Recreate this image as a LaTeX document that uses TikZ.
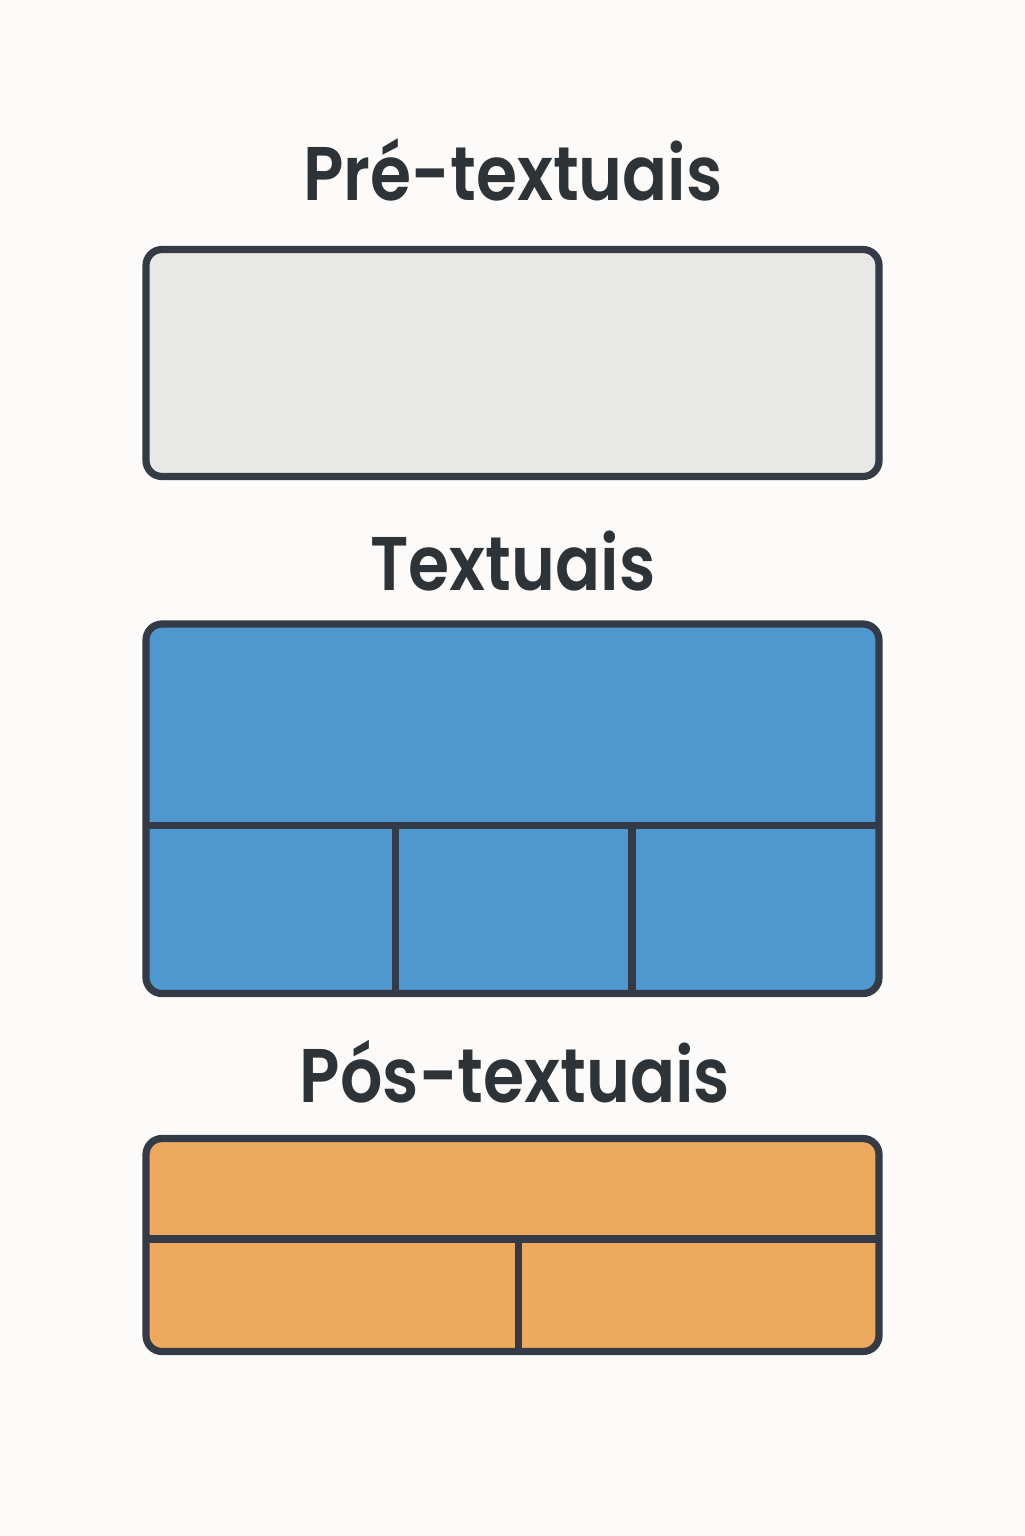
\documentclass[tikz,border=0pt]{standalone}
\usepackage{fontspec}
\usepackage{graphicx}
\setmainfont{Poppins}
\newfontfamily\titlefont{Poppins SemiBold}
\definecolor{bg}{HTML}{FCFBF9}
\definecolor{ink}{HTML}{343B46}
\definecolor{txt}{HTML}{2E3338}
\definecolor{grayfill}{HTML}{E8E8E6}
\definecolor{bluefill}{HTML}{4F97CF}
\definecolor{orangefill}{HTML}{EDAA5E}
\newcommand{\narrowtitle}[1]{\scalebox{0.875}[1]{#1}}
\begin{document}
\begin{tikzpicture}[x=0.5pt,y=-0.5pt,
  title/.style={anchor=base,text=txt,font=\titlefont\fontsize{38}{44}\selectfont,inner sep=0pt},
  panel/.style={draw=ink,line width=3.6pt,rounded corners=8pt,inner sep=0pt,minimum width=366.5pt},
  divider/.style={draw=ink,line width=3.6pt}]
\fill[bg] (0,0) rectangle (1024,1536);
\useasboundingbox (0,0) rectangle (1024,1536);

\node[title] (t1) at (513,200) {\narrowtitle{Pré-textuais}};
\node[panel,fill=grayfill,minimum height=113.5pt] (b1) at (512.5,363) {};

\node[title] (t2) at (513,590) {\narrowtitle{Textuais}};
\node[panel,fill=bluefill,minimum height=184.75pt] (b2) at (512.5,808.75) {};
\coordinate (h2l) at (146,825.5);
\coordinate (h2r) at (879,825.5);
\draw[divider] (h2l) -- (h2r);
\coordinate (v2a) at (395.5,825.5);
\coordinate (v2b) at (632,825.5);
\draw[divider] (v2a) -- (v2a |- b2.south);
\draw[divider] (v2b) -- (v2b |- b2.south);

\node[title] (t3) at (515,1102) {\narrowtitle{Pós-textuais}};
\node[panel,fill=orangefill,minimum height=106.5pt] (b3) at (512.5,1245) {};
\coordinate (h3l) at (146,1239);
\coordinate (h3r) at (879,1239);
\draw[divider] (h3l) -- (h3r);
\coordinate (v3) at (518.5,1239);
\draw[divider] (v3) -- (v3 |- b3.south);
\end{tikzpicture}
\end{document}
